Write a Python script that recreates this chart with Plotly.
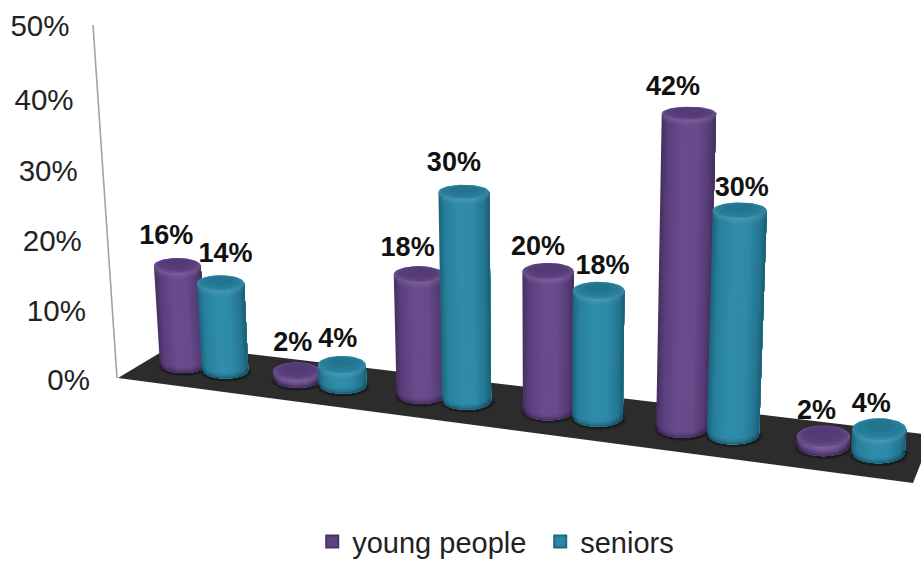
import math
import plotly.graph_objects as go

# ---- data ----
series_names = ["young people", "seniors"]
young_people = [16, 2, 18, 20, 42, 2]
seniors = [14, 4, 30, 18, 30, 4]
tick_values = [0, 10, 20, 30, 40, 50]

# ---- scene layout (pixel-like axes, drawn through the cartesian axes) ----
W, H = 921, 561
VP_X, VP_Y = 545.0, 6670.0        # vanishing point of the verticals
FLOOR = [(118, 378), (173, 345), (932, 435), (913, 483)]
WALL_BASE = (117.0, 378.0)
WALL_PER_UNIT = (-0.48, -7.06)
SLOT_X = [[183, 297, 421, 548, 682, 823], [225, 342.5, 466.5, 597.5, 733, 878]]

# data-label offsets from the top rim of each column
label_dx = [[-11, -4, -11, -10, -16, -7], [5, -4, -10, 4, 2, -8]]
label_dy = [[-21, -18, -17, -15, -18, -13], [-20, -16, -20, -15, -13, -13]]
tick_dy = [5, 6.5, 7, 7, 7, 4]

PURPLE_STOPS = [(-1, "#462f60"), (-0.75, "#5a3f7c"), (-0.2, "#6b4b8e"), (0.35, "#694a8b"),
                (0.8, "#553b74"), (1, "#432d5c")]
TEAL_STOPS = [(-1, "#1c6278"), (-0.75, "#27809c"), (-0.2, "#2f8dab"), (0.35, "#2e8aa8"),
              (0.8, "#237590"), (1, "#1a5c72")]
CAP = [["#6d5090", "#604585", "#583d7b", "#543a76"], ["#338eaa", "#2a829e", "#267b96", "#23748e"]]


def hex_rgb(c):
    return tuple(int(c[i:i + 2], 16) for i in (1, 3, 5))


def shade(stops, t):
    for (t0, c0), (t1, c1) in zip(stops, stops[1:]):
        if t <= t1:
            f = (t - t0) / (t1 - t0)
            a, b = hex_rgb(c0), hex_rgb(c1)
            return "rgb(%d,%d,%d)" % tuple(round(a[i] + (b[i] - a[i]) * f) for i in range(3))
    return stops[-1][1]


def base_y(x):
    return 370 + 0.126 * (x - 225)


def base_radius(x):
    return 23.3 + (x - 225) * 0.0056


def height(x, v):
    k = 6.35 + 0.0019 * (x - 200) + 0.01 * (v - 20)
    # the bevelled base foreshortens very short columns
    return k * v * (1 - 0.6 * math.exp(-v / 4))


def squash(y, a):
    return a * (0.24 + 0.0005 * (y - 115))


def column(cat, ser, v):
    bx = SLOT_X[ser][cat]
    by = base_y(bx)
    ab = base_radius(bx)
    ty = by - height(bx, v)
    s = (VP_Y - ty) / (VP_Y - by)
    tx = VP_X + (bx - VP_X) * s
    at = ab * s
    return dict(bx=bx, by=by, ab=ab, bb=squash(by, ab), tx=tx, ty=ty, at=at, tb=squash(ty, at))


def arc(cx, cy, a, b, t0, t1, n=14, sign=1):
    pts = []
    for i in range(n + 1):
        t = t0 + (t1 - t0) * i / n
        pts.append((cx + a * t, cy + sign * b * math.sqrt(max(0, 1 - t * t))))
    return pts


def ellipse(cx, cy, a, b, n=48):
    return [(cx + a * math.cos(2 * math.pi * i / n), cy + b * math.sin(2 * math.pi * i / n)) for i in range(n + 1)]


def poly_trace(polys, color):
    xs, ys = [], []
    for p in polys:
        xs += [q[0] for q in p] + [p[0][0], None]
        ys += [q[1] for q in p] + [p[0][1], None]
    return go.Scatter(x=xs, y=ys, mode="lines", fill="toself", fillcolor=color,
                      line=dict(width=0, color=color), hoverinfo="skip", showlegend=False)


fig = go.Figure()
values = [young_people, seniors]
cols = [[column(c, s, v) for c, v in enumerate(vals)] for s, vals in enumerate(values)]

# floor and wall edge
fig.add_trace(poly_trace([FLOOR], "#2c2c2c"))
wall = [(WALL_BASE[0] + WALL_PER_UNIT[0] * v, WALL_BASE[1] + WALL_PER_UNIT[1] * v) for v in tick_values]
fig.add_trace(go.Scatter(x=[p[0] for p in wall], y=[p[1] for p in wall], mode="lines",
                         line=dict(color="#a2a2a2", width=1.6), hoverinfo="skip", showlegend=False))

# soft contact shadows
for grow, col in [(1.12, "#262626"), (1.05, "#1c1c1c")]:
    polys = [ellipse(c["bx"] + 1, c["by"] + 2, c["ab"] * grow, c["bb"] * grow) for s in cols for c in s]
    fig.add_trace(poly_trace(polys, col))

STRIPS = 26
for ser, stops in enumerate([PURPLE_STOPS, TEAL_STOPS]):
    # body: every strip runs to the right edge, so later strips paint over it without seams
    for i in range(STRIPS):
        t0 = -1 + 2 * i / STRIPS
        polys = []
        for c in cols[ser]:
            top = arc(c["tx"], c["ty"], c["at"], c["tb"], t0, 1)
            bot = arc(c["bx"], c["by"], c["ab"], c["bb"], 1, t0)
            polys.append(top + bot)
        fig.add_trace(poly_trace(polys, shade(stops, t0 + 1 / STRIPS)))
    # dark rounding at the foot
    for d, col in [(5, "rgba(0,0,0,0.07)"), (3, "rgba(0,0,0,0.10)"), (1.5, "rgba(0,0,0,0.14)")]:
        polys = []
        for c in cols[ser]:
            low = arc(c["bx"], c["by"], c["ab"], c["bb"], -1, 1)
            up = [(x, y - d) for x, y in arc(c["bx"], c["by"], c["ab"], c["bb"], 1, -1)]
            polys.append(low + up)
        fig.add_trace(poly_trace(polys, col))
    # light rim below the cap
    for d, col in [(6, "rgba(255,255,255,0.03)"), (4, "rgba(255,255,255,0.04)"), (2, "rgba(255,255,255,0.05)")]:
        polys = []
        for c in cols[ser]:
            upper = arc(c["tx"], c["ty"], c["at"], c["tb"], -1, 1)
            lower = [(x, y + d) for x, y in arc(c["tx"], c["ty"], c["at"], c["tb"], 1, -1)]
            polys.append(upper + lower)
        fig.add_trace(poly_trace(polys, col))
    # cap
    for lvl, (f, col) in enumerate(zip([1.0, 0.94, 0.8, 0.55], CAP[ser])):
        polys = [ellipse(c["tx"], c["ty"] - (1 - f) * c["tb"] * 0.6, c["at"] * f, c["tb"] * f) for c in cols[ser]]
        fig.add_trace(poly_trace(polys, col))

# data labels
lx, ly, lt = [], [], []
for ser in range(2):
    for cat, c in enumerate(cols[ser]):
        lx.append(c["tx"] + label_dx[ser][cat])
        ly.append(c["ty"] - c["tb"] + label_dy[ser][cat])
        lt.append(f"{values[ser][cat]}%")
fig.add_trace(go.Scatter(x=lx, y=ly, text=lt, mode="text", textposition="middle center",
                         textfont=dict(family="Liberation Sans", size=27, color="#111111", weight="bold"),
                         hoverinfo="skip", showlegend=False))

# value axis labels along the slanted wall
fig.add_trace(go.Scatter(x=[p[0] - 27 + 0.07 * v for p, v in zip(wall, tick_values)],
                         y=[p[1] + d for p, d in zip(wall, tick_dy)],
                         text=[f"{v}%" for v in tick_values], mode="text", textposition="middle left",
                         textfont=dict(family="Liberation Sans", size=29.5, color="#222222"),
                         hoverinfo="skip", showlegend=False))

# legend
for name, col, edge in zip(series_names, ["#5f4480", "#2a87a5"], ["#4a3466", "#1f6a82"]):
    fig.add_trace(go.Scatter(x=[None], y=[None], mode="markers", name=name,
                             marker=dict(symbol="square", size=17, color=col, line=dict(color=edge, width=1))))

fig.update_layout(
    width=W, height=H, margin=dict(l=0, r=0, t=0, b=0, autoexpand=False),
    paper_bgcolor="white", plot_bgcolor="white",
    xaxis=dict(range=[0, W], visible=False, fixedrange=True),
    yaxis=dict(range=[H, 0], visible=False, fixedrange=True),
    legend=dict(orientation="h", x=0.339, xanchor="left", y=-0.011, yanchor="bottom",
                font=dict(family="Liberation Sans", size=29, color="#222222"),
                entrywidth=183, entrywidthmode="pixels",
                bgcolor="rgba(0,0,0,0)", itemsizing="constant", itemwidth=30, traceorder="normal"),
)
fig.write_html("out.html", config={"displayModeBar": False},
               post_script="document.body.style.margin='0';document.body.style.overflow='hidden';")
